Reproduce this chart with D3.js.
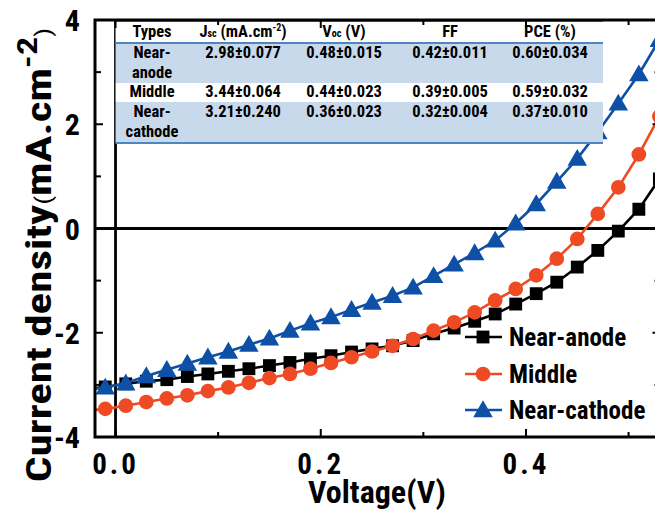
<!DOCTYPE html>
<html><head><meta charset="utf-8">
<script src="https://cdn.jsdelivr.net/npm/d3@7"></script>
<style>body{margin:0;background:#fff} svg{display:block}</style>
</head><body><svg id="c" width="655" height="510"></svg>
<script>
// ---- data ----
const voltage     = [-0.03,-0.01,0.01,0.03,0.05,0.07,0.09,0.11,0.13,0.15,0.17,0.19,0.21,0.23,0.25,0.27,0.29,0.31,0.33,0.35,0.37,0.39,0.41,0.43,0.45,0.47,0.49,0.51,0.53];
const nearAnode   = [-3.08,-3.04,-2.98,-2.93,-2.90,-2.84,-2.79,-2.74,-2.69,-2.63,-2.57,-2.50,-2.44,-2.37,-2.31,-2.25,-2.15,-2.02,-1.91,-1.78,-1.64,-1.45,-1.25,-1.03,-0.74,-0.42,-0.05,0.37,0.95];
const middle      = [-3.50,-3.46,-3.40,-3.33,-3.26,-3.20,-3.12,-3.05,-2.96,-2.87,-2.79,-2.69,-2.58,-2.47,-2.36,-2.25,-2.12,-1.96,-1.80,-1.61,-1.38,-1.16,-0.90,-0.58,-0.20,0.28,0.79,1.42,2.15];
const nearCathode = [-3.10,-3.05,-2.97,-2.83,-2.71,-2.59,-2.47,-2.36,-2.23,-2.11,-1.96,-1.82,-1.70,-1.56,-1.42,-1.29,-1.13,-0.91,-0.69,-0.47,-0.23,0.10,0.47,0.90,1.34,1.85,2.40,2.96,3.62];
const seriesNames = ["Near-anode","Middle","Near-cathode"];
const xTickLabels = [0.0,0.2,0.4];
const xMinorTicks = [0.1,0.3,0.5];
const yTickLabels = [4,2,0,-2,-4];
const yMinorTicks = [3,1,-1,-3];
const tableTypes = [["Near-","anode"],["Middle"],["Near-","cathode"]];
const tableJsc = ["2.98±0.077","3.44±0.064","3.21±0.240"];
const tableVoc = ["0.48±0.015","0.44±0.023","0.36±0.023"];
const tableFF  = ["0.42±0.011","0.39±0.005","0.32±0.004"];
const tablePCE = ["0.60±0.034","0.59±0.032","0.37±0.010"];

// ---- setup ----
const F = "'Liberation Sans Narrow','Arial Narrow','Roboto Condensed','DejaVu Sans Condensed',sans-serif";
const svg = d3.select("#c");
const L = 95, R = 664.5, T = 20, B = 437;
const x = d3.scaleLinear().domain([-0.02, 0.535]).range([L, R]);
const y = d3.scaleLinear().domain([-4, 4]).range([B, T]);
const colors = ["#000000", "#ee4b24", "#0d50a6"];
const data = [nearAnode, middle, nearCathode].map(s => s.map((v, i) => ({v: voltage[i], j: v})));

svg.append("clipPath").attr("id","clip").append("rect").attr("x",L).attr("y",T).attr("width",R-L).attr("height",B-T);

// zero lines
svg.append("line").attr("x1",L).attr("x2",R).attr("y1",y(0)).attr("y2",y(0)).attr("stroke","#000").attr("stroke-width",2.8);
svg.append("line").attr("x1",x(0)).attr("x2",x(0)).attr("y1",T).attr("y2",B).attr("stroke","#000").attr("stroke-width",2.8);

// curves
const plot = svg.append("g").attr("clip-path","url(#clip)");
const line = d3.line().x(d => x(d.v)).y(d => y(d.j));
const sym = [d3.symbolSquare, d3.symbolCircle, d3.symbolTriangle];
const symSize = [165, 170, 165];
data.forEach((s, k) => {
  plot.append("path").datum(s).attr("d", line).attr("fill","none").attr("stroke",colors[k]).attr("stroke-width",2.6);
  plot.selectAll(null).data(s).enter().append("path")
    .attr("d", d3.symbol().type(sym[k]).size(symSize[k]))
    .attr("transform", d => `translate(${x(d.v)},${y(d.j) + (k===2?1.5:0)})`)
    .attr("fill", colors[k]);
});

// table
const tbl = svg.append("g");
const tL = x(0), tR = 603;
const rowBounds = [[T,43],[43,83],[83,102],[102,143]];
const rowFill = ["#ffffff","#c8d9eb","#ffffff","#c8d9eb"];
rowBounds.forEach((b,i) => tbl.append("rect").attr("x",tL).attr("y",b[0]).attr("width",tR-tL).attr("height",b[1]-b[0]).attr("fill",rowFill[i]));
[T+1, 43, 143].forEach(yy => tbl.append("line").attr("x1",tL).attr("x2",tR).attr("y1",yy).attr("y2",yy).attr("stroke","#4f86c0").attr("stroke-width",2));
const colX = [152, 243, 344, 450, 550];
const tfs = 16.5;
function ttext(xx, yy, fs) {
  return tbl.append("text").attr("x",xx).attr("y",yy).attr("text-anchor","middle")
    .attr("font-family",F).attr("font-weight","bold").attr("font-size",fs||tfs).attr("fill","#000");
}
ttext(colX[0], 37).text("Types");
let h = ttext(colX[1], 37); h.append("tspan").text("J"); h.append("tspan").attr("font-size",10).text("sc"); h.append("tspan").text(" (mA.cm"); h.append("tspan").attr("font-size",10).attr("dy",-6).text("-2"); h.append("tspan").attr("dy",6).text(")");
h = ttext(colX[2], 37); h.append("tspan").text("V"); h.append("tspan").attr("font-size",10).text("oc"); h.append("tspan").text(" (V)");
ttext(colX[3], 37).text("FF");
ttext(colX[4], 37).text("PCE (%)");
const rowY = [58, 97, 117];
tableTypes.forEach((t, i) => {
  t.forEach((s, m) => ttext(colX[0], rowY[i] + m*20).text(s));
  ttext(colX[1], rowY[i]).text(tableJsc[i]);
  ttext(colX[2], rowY[i]).text(tableVoc[i]);
  ttext(colX[3], rowY[i]).text(tableFF[i]);
  ttext(colX[4], rowY[i]).text(tablePCE[i]);
});

// axes frame
const ax = svg.append("g");
ax.append("rect").attr("x",L).attr("y",T).attr("width",R-L).attr("height",B-T).attr("fill","none").attr("stroke","#000").attr("stroke-width",3);
xTickLabels.concat(xMinorTicks).forEach(t => {
  const len = xTickLabels.includes(t) ? 8 : 5;
  ax.append("line").attr("x1",x(t)).attr("x2",x(t)).attr("y1",B).attr("y2",B-len).attr("stroke","#000").attr("stroke-width",2);
  ax.append("line").attr("x1",x(t)).attr("x2",x(t)).attr("y1",T).attr("y2",T+len).attr("stroke","#000").attr("stroke-width",2);
});
yTickLabels.concat(yMinorTicks).forEach(t => {
  const len = yTickLabels.includes(t) ? 8 : 6;
  ax.append("line").attr("x1",L).attr("x2",L+len).attr("y1",y(t)).attr("y2",y(t)).attr("stroke","#000").attr("stroke-width",2);
  ax.append("line").attr("x1",R).attr("x2",R-len-4).attr("y1",y(t)).attr("y2",y(t)).attr("stroke","#000").attr("stroke-width",2);
});
xTickLabels.forEach(t => ax.append("text").attr("x",x(t)).attr("y",474).attr("text-anchor","middle")
  .attr("font-family",F).attr("font-weight","bold").attr("font-size",29).attr("letter-spacing",3).text(t.toFixed(1)));
yTickLabels.forEach(t => ax.append("text").attr("x",80).attr("y",y(t)+11).attr("text-anchor","end")
  .attr("font-family",F).attr("font-weight","bold").attr("font-size",30).text(t));
ax.append("text").attr("x",377).attr("y",503).attr("text-anchor","middle")
  .attr("font-family",F).attr("font-weight","bold").attr("font-size",32).text("Voltage(V)");
const yt = ax.append("text").attr("transform","translate(51,255) rotate(-90) scale(1.29,1)").attr("text-anchor","middle")
  .attr("font-family",F).attr("font-weight","bold").attr("font-size",35);
yt.append("tspan").text("Current density");
yt.append("tspan").attr("font-size",22).attr("font-weight","normal").text("(");
yt.append("tspan").text("mA.cm");
yt.append("tspan").attr("font-size",28).attr("dy",-14).text("-2");
yt.append("tspan").attr("font-size",22).attr("font-weight","normal").attr("dy",14).text(")");

// legend
const legY = [337, 374, 410];
seriesNames.forEach((n, k) => {
  const g = svg.append("g");
  g.append("line").attr("x1",465).attr("x2",502).attr("y1",legY[k]).attr("y2",legY[k]).attr("stroke",colors[k]).attr("stroke-width",2.6);
  g.append("path").attr("d", d3.symbol().type(sym[k]).size(symSize[k])).attr("transform",`translate(483,${legY[k] + (k===2?1.5:0)})`).attr("fill",colors[k]);
  g.append("text").attr("x",509).attr("y",legY[k]+9).attr("font-family",F).attr("font-weight","bold").attr("font-size",25).text(n);
});
</script></body></html>
